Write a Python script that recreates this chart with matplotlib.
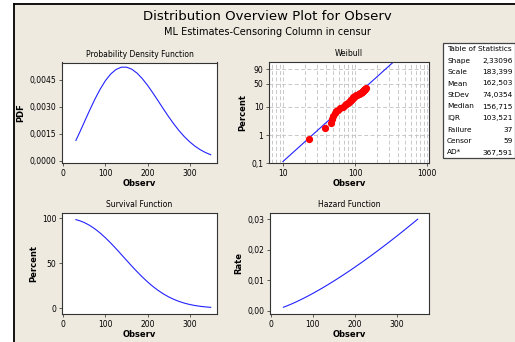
import numpy as np
import matplotlib
matplotlib.use("Agg")
import matplotlib.pyplot as plt
import matplotlib.patches as patches
from matplotlib.lines import Line2D

# ---- data ----
obs_x = [30, 40, 50, 62.5, 75, 87.5, 100, 112.5, 125, 137.5, 150, 162.5, 175, 187.5,
         200, 212.5, 225, 237.5, 250, 262.5, 275, 287.5, 300, 312.5, 325, 337.5, 350]
pdf_vals = [0.001125, 0.001627, 0.002148, 0.002796, 0.003414, 0.003972, 0.004447,
            0.004816, 0.005068, 0.005197, 0.005202, 0.005089, 0.004872, 0.004567,
            0.004195, 0.003776, 0.003334, 0.002885, 0.002450, 0.002040, 0.001666,
            0.001335, 0.001049, 0.000809, 0.000612, 0.000454, 0.000330]
surv_pct = [98.54, 97.17, 95.28, 92.19, 88.30, 83.68, 78.41, 72.61, 66.42, 59.99,
            53.48, 47.03, 40.80, 34.89, 29.41, 24.42, 19.99, 16.09, 12.76, 9.96,
            7.65, 5.78, 4.29, 3.13, 2.25, 1.59, 1.10]
hazard_vals = [0.001142, 0.001675, 0.002254, 0.003033, 0.003866, 0.004747, 0.005671,
               0.006632, 0.007631, 0.008662, 0.009727, 0.010820, 0.011941, 0.013089,
               0.014266, 0.015462, 0.016681, 0.017928, 0.019196, 0.020485, 0.021792,
               0.023120, 0.024468, 0.025833, 0.027223, 0.028619, 0.030042]

# failures on the Weibull probability plot
fail_x = [22.8, 38, 46, 48, 50, 52, 55, 58, 62, 68, 73, 76, 79, 82, 85, 87, 89, 91,
          93, 95, 97, 100, 104, 108, 112, 115, 118, 121, 124, 126, 128, 130, 132,
          134, 136, 138, 140]
fail_pct = [0.73, 1.76, 2.80, 3.84, 4.88, 5.91, 6.95, 7.99, 9.02, 10.06, 11.10, 12.14,
            13.17, 14.21, 15.25, 16.29, 17.32, 18.36, 19.40, 20.44, 21.47, 22.51,
            23.55, 24.59, 25.62, 26.66, 27.70, 28.73, 29.77, 30.81, 31.85, 32.88,
            33.92, 34.96, 36.00, 37.03, 38.07]
fit_x = [10, 400]
fit_pct = [0.113, 99.79]

stat_names = ["Shape", "Scale", "Mean", "StDev", "Median", "IQR", "Failure", "Censor", "AD*"]
stat_values = ["2,33096", "183,399", "162,503", "74,0354", "156,715", "103,521", "37", "59", "367,591"]

W, H = 515, 342
BG = "#EEEAE0"
BLUE = "#2222FF"

plt.rcParams["font.family"] = ["DejaVu Sans"]

fig = plt.figure(figsize=(W / 100, H / 100), dpi=100, facecolor="white")
fig.patches.append(patches.Rectangle((14 / W, 0), 1, 1 - 4 / H, transform=fig.transFigure,
                                     facecolor=BG, edgecolor="none", zorder=-10))
fig.lines.append(Line2D([13.5 / W, 13.5 / W], [0, 1 - 3.5 / H], transform=fig.transFigure,
                        color="black", lw=1.3))
fig.lines.append(Line2D([13.5 / W, 1], [1 - 3.5 / H, 1 - 3.5 / H], transform=fig.transFigure,
                        color="black", lw=1.3))


def px_axes(x0, y0, x1, y1):
    return fig.add_axes([x0 / W, 1 - y1 / H, (x1 - x0) / W, (y1 - y0) / H])


def style(ax, title, xlabel, ylabel):
    ax.set_facecolor("white")
    ax.set_title(title, fontsize=5.5, pad=4)
    ax.set_xlabel(xlabel, fontsize=6, fontweight="bold", labelpad=1)
    ax.set_ylabel(ylabel, fontsize=6, fontweight="bold", labelpad=3)
    ax.tick_params(labelsize=5.5, length=2.5, width=0.6, pad=1.5, color="#444444")
    for s in ax.spines.values():
        s.set_color("#333333")
        s.set_linewidth(0.8)


fig.text(0.52, 1 - 17 / H, "Distribution Overview Plot for Observ", ha="center", va="center",
         fontsize=9.5)
fig.text(0.52, 1 - 32 / H, "ML Estimates-Censoring Column in censur", ha="center", va="center",
         fontsize=7)

# PDF
ax1 = px_axes(62, 62.5, 217, 163)
ax1.plot(obs_x, pdf_vals, color=BLUE, lw=0.8)
ax1.set_xlim(-3, 365)
ax1.set_ylim(-0.00013, 0.00546)
ax1.set_xticks([0, 100, 200, 300])
ax1.set_yticks([0, 0.0015, 0.003, 0.0045])
ax1.set_yticklabels(["0,0000", "0,0015", "0,0030", "0,0045"])
style(ax1, "Probability Density Function", "Observ", "PDF")

# Weibull probability plot
fwd = lambda p: np.log(-np.log(1 - np.clip(p, 1e-9, 99.9999999) / 100))
inv = lambda y: 100 * (1 - np.exp(-np.exp(y)))
ax2 = px_axes(269, 62, 429, 163)
ax2.set_xscale("log")
ax2.set_yscale("function", functions=(fwd, inv))
ax2.set_xlim(6.4, 1066)
ax2.set_ylim(0.1, 98.6)
ax2.set_xticks([10, 100, 1000])
ax2.set_xticklabels(["10", "100", "1000"])
ax2.set_xticks([m * d for d in (1, 10, 100) for m in range(2, 10) if 6 < m * d < 1000],
               minor=True)
ax2.set_xticklabels([], minor=True)
ax2.tick_params(axis="x", which="minor", length=0)
ax2.set_yticks([0.1, 1, 10, 50, 90])
ax2.set_yticklabels(["0,1", "1", "10", "50", "90"])
ax2.set_yticks([], minor=True)
ax2.grid(True, which="both", color="#C8C8C8", ls=(0, (4, 2.5)), lw=0.7)
ax2.set_axisbelow(True)
ax2.plot(fit_x, fit_pct, color=BLUE, lw=0.8, zorder=2)
ax2.plot(fail_x, fail_pct, "o", color="#FF0000", ms=4.2, mec="#FF0000", zorder=3)
style(ax2, "Weibull", "Observ", "Percent")

# Survival
ax3 = px_axes(62, 213, 217, 314)
ax3.plot(obs_x, surv_pct, color=BLUE, lw=0.8)
ax3.set_xlim(-3, 365)
ax3.set_ylim(-6.3, 105.9)
ax3.set_xticks([0, 100, 200, 300])
ax3.set_yticks([0, 50, 100])
style(ax3, "Survival Function", "Observ", "Percent")

# Hazard
ax4 = px_axes(270, 213, 429, 314)
ax4.plot(obs_x, hazard_vals, color=BLUE, lw=0.8)
ax4.set_xlim(-2, 377)
ax4.set_ylim(-0.00108, 0.03207)
ax4.set_xticks([0, 100, 200, 300])
ax4.set_yticks([0, 0.01, 0.02, 0.03])
ax4.set_yticklabels(["0,00", "0,01", "0,02", "0,03"])
style(ax4, "Hazard Function", "Observ", "Rate")

# statistics table
fig.patches.append(patches.Rectangle((443 / W, 1 - 158 / H), (W - 443) / W, 115 / H,
                                     transform=fig.transFigure, facecolor="white",
                                     edgecolor="#444444", lw=0.9))
fig.text(447 / W, 1 - 49 / H, "Table of Statistics", fontsize=5.3, va="center")
for i, (n, v) in enumerate(zip(stat_names, stat_values)):
    y = 1 - (49 + 11.5 * (i + 1)) / H
    fig.text(447 / W, y, n, fontsize=5.3, va="center")
    fig.text(513 / W, y, v, fontsize=5.3, va="center", ha="right")

fig.savefig("out.png", dpi=100, facecolor="white")
